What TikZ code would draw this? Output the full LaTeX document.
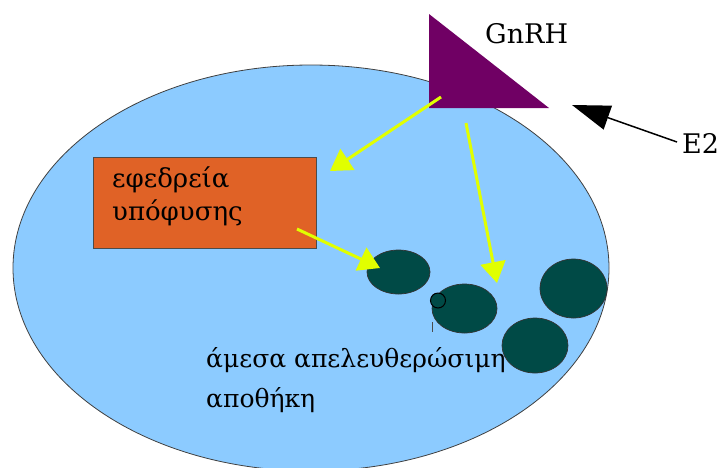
\documentclass[tikz,border=0pt]{standalone}
\usepackage{fontspec}
\setmainfont{DejaVu Serif}
\usetikzlibrary{arrows.meta,shapes.geometric}
\definecolor{cellblue}{RGB}{140,203,255}
\definecolor{poolgreen}{RGB}{0,74,70}
\definecolor{gnrhpurple}{RGB}{112,0,100}
\definecolor{boxorange}{RGB}{224,98,38}
\definecolor{arrowyellow}{RGB}{225,255,0}
\tikzset{
  pool/.style={ellipse,draw=black!80,line width=0.7pt,fill=poolgreen,inner sep=0pt},
  ylarrow/.style={arrowyellow,line width=3pt,-{Triangle[length=21pt,width=25pt]}},
  lbl/.style={anchor=base west,inner sep=0pt,font=\fontsize{25}{40}\selectfont}
}
\begin{document}
\begin{tikzpicture}[x=1pt,y=-1pt]
  \useasboundingbox (0,0) rectangle (719,467);
  % cell
  \draw[fill=cellblue,draw=black!75,line width=0.8pt] (311,268) ellipse [x radius=298,y radius=203];
  % hormone
  \fill[gnrhpurple] (429,14) coordinate (t1) -- (429,108) coordinate (t2) -- (549,108) coordinate (t3) -- cycle;
  \node[lbl,font=\fontsize{27}{36}\selectfont] (gnrh) at (485,43) {GnRH};
  \node[lbl,font=\fontsize{27}{36}\selectfont] (e2) at (682,153) {E2};
  % reserve box
  \node[draw=black!70,line width=0.8pt,fill=boxorange,minimum width=223,minimum height=91,anchor=north west,inner sep=0pt] (box) at (93,157) {};
  \node[lbl,font=\fontsize{26}{36}\selectfont] (res1) at (112,187) {εφεδρεία};
  \node[lbl,font=\fontsize{26}{36}\selectfont] (res2) at (112,220) {υπόφυσης};
  % vesicles
  \node[pool,minimum width=63,minimum height=44] (v1) at (398.5,272) {};
  \node[pool,minimum width=65,minimum height=49] (v2) at (464.5,308.5) {};
  \node[pool,minimum width=67,minimum height=59] (v3) at (573.5,288.5) {};
  \node[pool,minimum width=66,minimum height=55] (v4) at (535,345.5) {};
  \node[pool,draw=black,line width=1pt,minimum width=15,minimum height=15] (v0) at (438,300.5) {};
  \draw[black!70,line width=0.5pt] (432,322) -- (432,332);
  \node[lbl] (pool1) at (206,367) {άμεσα απελευθερώσιμη};
  \node[lbl] (pool2) at (206,407) {αποθήκη};
  % arrows
  \coordinate (a1s) at (441,97);  \coordinate (a1e) at (330,171);
  \coordinate (a2s) at (466,123); \coordinate (a2e) at (497,283);
  \coordinate (a3s) at (297,229); \coordinate (a3e) at (380,268);
  \draw[ylarrow] (a1s) -- (a1e);
  \draw[ylarrow] (a2s) -- (a2e);
  \draw[ylarrow] (a3s) -- (a3e);
  \coordinate (e2s) at (677,142); \coordinate (e2e) at (572,105);
  \draw[line width=1.5pt,-{Triangle[length=38pt,width=25pt]}] (e2s) -- (e2e);
\end{tikzpicture}
\end{document}
